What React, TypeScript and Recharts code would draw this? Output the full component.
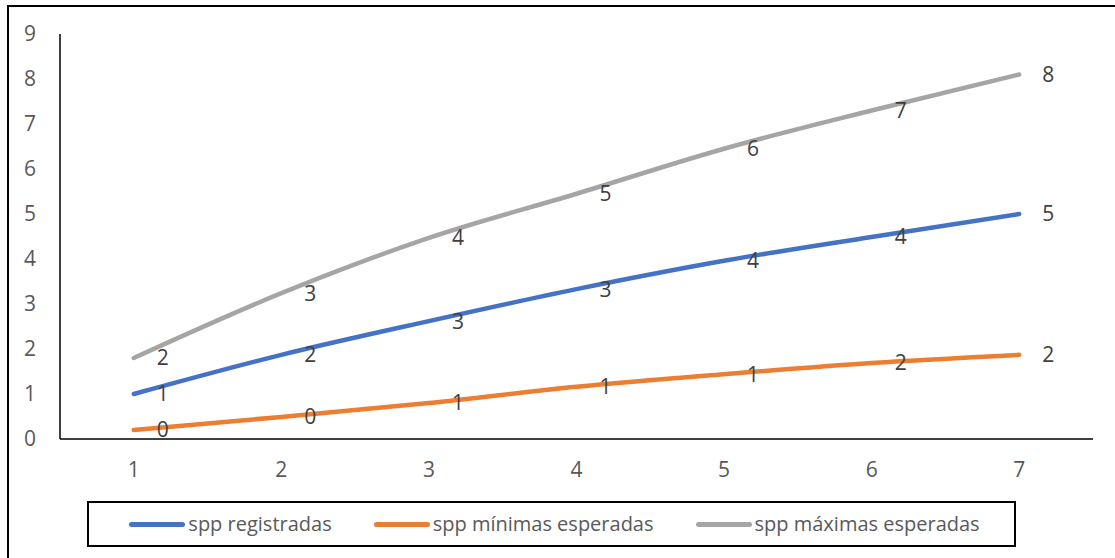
import React from "react";
import { LineChart, Line, XAxis, YAxis, Legend, LabelList } from "recharts";

const categories = ["1", "2", "3", "4", "5", "6", "7"];
const registradas = [1.0, 1.87, 2.62, 3.33, 3.96, 4.49, 5.0];
const minimas = [0.2, 0.49, 0.8, 1.16, 1.44, 1.69, 1.87];
const maximas = [1.8, 3.24, 4.47, 5.45, 6.45, 7.3, 8.1];
const yTicks = [0, 1, 2, 3, 4, 5, 6, 7, 8, 9];

const seriesNames = ["spp registradas", "spp mínimas esperadas", "spp máximas esperadas"];
const seriesColors = ["#4472C4", "#ED7D31", "#A5A5A5"];

const data = categories.map((c, i) => ({
  cat: c,
  reg: registradas[i],
  min: minimas[i],
  max: maximas[i],
}));

const FONT = "'Open Sans', sans-serif";

const LegendBox = () => (
  <div
    style={{
      width: 929,
      height: 46,
      boxSizing: "border-box",
      border: "2px solid #000",
      display: "flex",
      alignItems: "center",
      justifyContent: "center",
      gap: 42,
      fontFamily: FONT,
      fontSize: 20,
      color: "#595959",
      background: "#fff",
      paddingLeft: 6,
    }}
  >
    {seriesNames.map((n, i) => (
      <div key={n} style={{ display: "flex", alignItems: "center" }}>
        <div
          style={{
            width: 56,
            height: 5,
            borderRadius: 3,
            background: seriesColors[i],
            marginRight: 3,
          }}
        />
        <span style={{ lineHeight: "24px", whiteSpace: "nowrap" }}>{n}</span>
      </div>
    ))}
  </div>
);

const fmt = (v: any) => String(Math.round(Number(v)));

export default function App() {
  const keys = ["reg", "min", "max"];
  return (
    <div
      style={{
        position: "fixed",
        left: 0,
        top: 0,
        width: 1115,
        height: 558,
        background: "#fff",
        overflow: "hidden",
      }}
    >
      <div
        style={{
          position: "absolute",
          left: 7,
          top: 5,
          width: 1200,
          height: 700,
          border: "2px solid #000",
          boxSizing: "border-box",
        }}
      />
      <div style={{ position: "absolute", left: 0, top: 0 }}>
        <LineChart
          width={1115}
          height={558}
          data={data}
          margin={{ top: 34, right: 22, bottom: 43, left: 0 }}
        >
          <XAxis
            dataKey="cat"
            scale="band"
            tickLine={false}
            tickSize={0}
            tickMargin={23}
            axisLine={{ stroke: "#000", strokeWidth: 1.5 }}
            tick={{ fill: "#595959", fontSize: 21, fontFamily: FONT }}
            height={30}
          />
          <YAxis
            domain={[0, 9]}
            ticks={yTicks}
            interval={0}
            tickLine={false}
            tickSize={0}
            tickMargin={24}
            width={60}
            axisLine={{ stroke: "#000", strokeWidth: 1.5 }}
            tick={{ fill: "#595959", fontSize: 21, fontFamily: FONT }}
          />
          {keys.map((k, i) => (
            <Line
              key={k}
              dataKey={k}
              name={seriesNames[i]}
              type="monotone"
              stroke={seriesColors[i]}
              strokeWidth={4.5}
              strokeLinecap="round"
              dot={false}
              activeDot={false}
              isAnimationActive={false}
            >
              <LabelList
                dataKey={k}
                position="right"
                offset={23}
                formatter={fmt}
                style={{ fill: "#404040", fontSize: 21, fontFamily: FONT }}
              />
            </Line>
          ))}
          <Legend
            content={<LegendBox />}
            wrapperStyle={{ position: "absolute", left: 87, top: 501, width: 929, bottom: "auto" }}
          />
        </LineChart>
      </div>
    </div>
  );
}
